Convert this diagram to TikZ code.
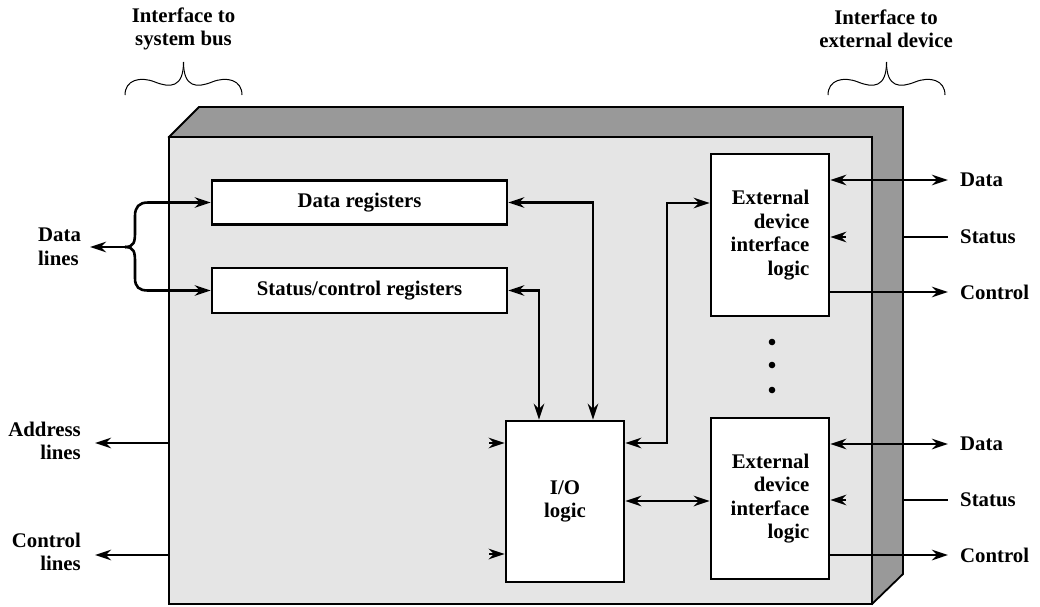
\documentclass[tikz,border=0pt]{standalone}
\usepackage{fontspec}
\setmainfont{Liberation Serif}
\usetikzlibrary{arrows.meta,calc}
\begin{document}
\begin{tikzpicture}[x=1pt,y=-1pt,
  lbl/.style={font=\fontsize{20.8}{23.5}\selectfont\bfseries, inner sep=0pt},
  box/.style={draw, line width=2.5pt, fill=white, inner sep=0pt, lbl},
  hd/.tip={Stealth[length=16pt,width=10.5pt,inset=5pt]},
  arr/.style={line width=2.6pt, -hd},
  barr/.style={line width=2.6pt, hd-hd},
  stub/.style={line width=2.6pt, -hd},
  plain/.style={line width=2.6pt},
  bracestyle/.style={line width=1pt},
]
\useasboundingbox (0,0) rectangle (1040,606);

% 3D enclosure
\filldraw[fill=black!40, line width=1.8pt] (169,137) -- (199,107) -- (903,107) -- (903,574) -- (872,604) -- cycle;
\filldraw[fill=black!10, line width=2.2pt] (169,137) rectangle (872,604);

% braces
\draw[bracestyle] (125,95) .. controls (125,80) and (140,76) .. (155,82) .. controls (170,88) and (183.5,88) .. (183.5,62);
\draw[bracestyle] (242,95) .. controls (242,80) and (227,76) .. (212,82) .. controls (197,88) and (183.5,88) .. (183.5,62);
\draw[bracestyle] (828,95) .. controls (828,80) and (843,76) .. (858,82) .. controls (873,88) and (886.5,88) .. (886.5,62);
\draw[bracestyle] (945,95) .. controls (945,80) and (930,76) .. (915,82) .. controls (900,88) and (886.5,88) .. (886.5,62);

% top labels
\node[lbl, align=center] (tsys) at (183.5,29) {Interface to\\system bus};
\node[lbl, align=center] (text) at (886,29) {Interface to\\external device};

% boxes
\node[box, minimum width=295pt, minimum height=44pt] (dreg) at (359.5,202.5) {Data registers};
\node[box, minimum width=295pt, minimum height=45pt] (sreg) at (359.5,290.5) {Status/control registers};
\node[box, minimum width=118pt, minimum height=161pt, align=center] (io) at (565,501.5) {I/O\\logic};
\node[box, minimum width=118pt, minimum height=162pt, align=right] (ext1) at (770,235) {External\\device\\interface\\logic};
\node[box, minimum width=118pt, minimum height=161pt, align=right] (ext2) at (770,498.5) {External\\device\\interface\\logic};

% left labels
\node[lbl, align=left, anchor=west] (dl) at (38,247) {Data\\lines};
\node[lbl, align=right, anchor=east] (al) at (81,441) {Address\\lines};
\node[lbl, align=right, anchor=east] (cl) at (81,552) {Control\\lines};

% right labels
\node[lbl, anchor=west] (d1) at (960,180) {Data};
\node[lbl, anchor=west] (s1) at (960,237) {Status};
\node[lbl, anchor=west] (c1) at (960,292) {Control};
\node[lbl, anchor=west] (d2) at (960,444) {Data};
\node[lbl, anchor=west] (s2) at (960,500) {Status};
\node[lbl, anchor=west] (c2) at (960,555) {Control};

% data lines fork
\coordinate (dlt) at (90,247);
\coordinate (jn) at (125,247);
\draw[arr] (jn) -- (dlt);
\draw[arr] (jn) .. controls (134,247) and (135,242) .. (135,232) -- (135,216) .. controls (135,207) and (139,202.5) .. (148,202.5) -- (dreg.west);
\draw[arr] (jn) .. controls (134,247) and (135,252) .. (135,262) -- (135,278) .. controls (135,287) and (139,290.5) .. (148,290.5) -- (sreg.west);

% address / control lines
\coordinate (a0) at (169,443);
\coordinate (a1) at (95,443);
\coordinate (k0) at (169,555);
\coordinate (k1) at (95,555);
\draw[arr] (a0) -- (a1);
\draw[arr] (k0) -- (k1);

% registers to I/O
\draw[barr] (dreg.east) -| ($(io.north)+(28,0)$);
\draw[barr] (sreg.east) -| ($(io.north)+(-26,0)$);

% I/O stubs
\coordinate (st1) at (489,443);
\coordinate (st2) at (489,554);
\draw[stub] (st1) -- (io.west |- st1);
\draw[stub] (st2) -- (io.west |- st2);

% I/O to external interfaces
\coordinate (bend) at (667,443);
\draw[barr] (io.east |- bend) -- (bend) |- ($(ext1.west)+(0,-32)$);
\coordinate (m2) at (640,501);
\draw[barr] (io.east |- m2) -- (ext2.west |- m2);

% external 1 lines
\draw[barr] (ext1.east |- d1) -- ($(d1.west)+(-12,0)$);
\coordinate (s1e) at (903,237);
\draw[plain] (s1e) -- ($(s1.west)+(-12,0)$);
\coordinate (s1t) at (846,237);
\draw[stub] (s1t) -- (ext1.east |- s1t);
\draw[arr] (ext1.east |- c1) -- ($(c1.west)+(-12,0)$);

% external 2 lines
\draw[barr] (ext2.east |- d2) -- ($(d2.west)+(-12,0)$);
\coordinate (s2e) at (903,500);
\draw[plain] (s2e) -- ($(s2.west)+(-12,0)$);
\coordinate (s2t) at (846,500);
\draw[stub] (s2t) -- (ext2.east |- s2t);
\draw[arr] (ext2.east |- c2) -- ($(c2.west)+(-12,0)$);

% dots
\fill (772,342) circle (3.3pt);
\fill (772,365) circle (3.3pt);
\fill (772,390) circle (3.3pt);
\end{tikzpicture}
\end{document}
